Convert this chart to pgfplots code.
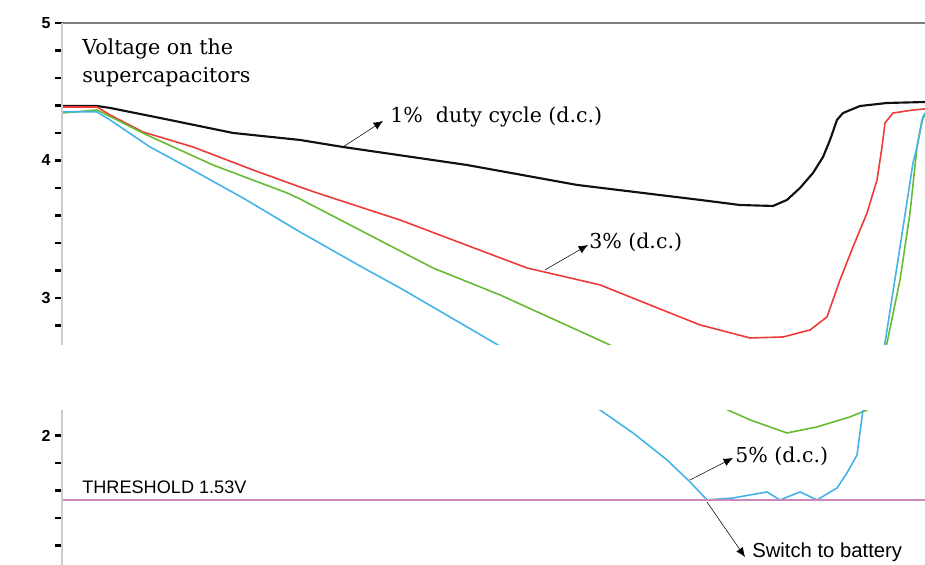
\documentclass[border=0pt]{standalone}
\usepackage{pgfplots}
\pgfplotsset{compat=1.18}
\usepackage{fontspec}
\setmainfont{DejaVu Serif}
\setsansfont{Liberation Sans}
\usetikzlibrary{arrows.meta}

\definecolor{cblack}{HTML}{111111}
\definecolor{cred}{HTML}{EE3A3A}
\definecolor{cgreen}{HTML}{66BB33}
\definecolor{cblue}{HTML}{44B4E8}
\definecolor{cthr}{HTML}{CC88BB}
\definecolor{ctop}{HTML}{7F7F7F}
\definecolor{cleft}{HTML}{CCCCCC}

\begin{document}
\begin{tikzpicture}
\begin{axis}[
    scale only axis,
    width=647.25pt, height=406.5pt,
    xmin=0, xmax=863,
    ymin=1.058, ymax=5,
    clip=false,
    axis line style={draw=none},
    xtick=\empty,
    ytick={2,3,4,5},
    minor ytick={1.2,1.4,1.6,1.8,2.8,3.2,3.4,3.6,3.8,4.2,4.4,4.6,4.8},
    tick align=outside,
    ytick pos=left,
    major tick length=5pt, minor tick length=5pt,
    every tick/.style={black, line width=1.6pt},
    yticklabel style={font=\sffamily\bfseries\fontsize{12}{14}\selectfont},
    /pgf/number format/assume math mode=true,
]
% 1% duty cycle
\addplot[cblack, line width=1.6pt] coordinates {
 (0,4.396) (35,4.396) (48,4.382) (98,4.309) (171,4.2) (238,4.149) (281,4.098)
 (405,3.967) (515,3.822) (638,3.713) (678,3.676) (711,3.669) (725,3.713)
 (738,3.8) (751,3.909) (761,4.025) (768,4.149) (775,4.295) (781,4.345)
 (798,4.396) (825,4.418) (863,4.425)};
% 3% duty cycle
\addplot[cred, line width=1.2pt] coordinates {
 (0,4.389) (35,4.389) (48,4.331) (81,4.207) (131,4.098) (191,3.931) (238,3.807)
 (255,3.764) (338,3.567) (465,3.218) (538,3.095) (588,2.949) (638,2.804)
 (688,2.709) (721,2.716) (748,2.767) (765,2.862) (778,3.131) (791,3.371)
 (805,3.618) (815,3.858) (820,4.098) (823,4.273) (831,4.345) (851,4.367) (863,4.375)};
% intermediate duty cycle
\addplot[cgreen, line width=1.2pt] coordinates {
 (0,4.345) (35,4.367) (45,4.331) (85,4.185) (151,3.967) (225,3.764) (238,3.72)
 (371,3.218) (438,3.022) (548,2.658) (618,2.367) (666,2.185) (688,2.113)
 (725,2.018) (755,2.062) (788,2.135) (805,2.185) (816,2.40) (825,2.673)
 (838,3.131) (848,3.618) (855,4.098) (860,4.295) (863,4.331)};
% 5% duty cycle
\addplot[cblue, line width=1.2pt] coordinates {
 (0,4.353) (35,4.353) (48,4.295) (88,4.098) (125,3.953) (181,3.727) (238,3.48)
 (305,3.204) (338,3.073) (436,2.658) (488,2.418) (538,2.185) (571,2.018)
 (605,1.822) (628,1.662) (645,1.531) (671,1.545) (705,1.589) (718,1.531)
 (738,1.589) (755,1.531) (775,1.618) (785,1.727) (795,1.858) (801,2.185)
 (813,2.40) (823,2.673) (838,3.371) (851,3.982) (855,4.098) (861,4.316) (863,4.345)};
% threshold
\addplot[cthr, line width=1pt] coordinates {(0,1.53) (863,1.53)};

% masked band of the original figure
\fill[white] (axis cs:-62,2.187) rectangle (axis cs:863,2.658);

% axis lines
\draw[ctop, line width=1.5pt] (axis cs:0,5) -- (axis cs:863,5);
\draw[cleft, line width=0.8pt] (axis cs:0,1.058) -- (axis cs:0,2.187);
\draw[cleft, line width=0.8pt] (axis cs:0,2.658) -- (axis cs:0,5);

% annotations
\node[anchor=north west, align=left, inner sep=0pt,
      font=\fontsize{15.5}{21}\selectfont] at (axis cs:20,4.89)
      {Voltage on the\\supercapacitors};
\draw[-{Latex[length=7pt,width=6pt]}, thin] (axis cs:281,4.098) -- (axis cs:321,4.287);
\node[anchor=base west, inner sep=0pt, font=\fontsize{15.4}{17}\selectfont]
      at (axis cs:328,4.273) {1\%\ \ duty cycle (d.c.)};
\draw[-{Latex[length=7pt,width=6pt]}, thin] (axis cs:483,3.204) -- (axis cs:526,3.385);
\node[anchor=base west, inner sep=0pt, font=\fontsize{15.4}{17}\selectfont]
      at (axis cs:527,3.36) {3\% (d.c.)};
\draw[-{Latex[length=7pt,width=6pt]}, thin] (axis cs:628,1.676) -- (axis cs:671,1.836);
\node[anchor=base west, inner sep=0pt, font=\fontsize{15.4}{17}\selectfont]
      at (axis cs:673,1.80) {5\% (d.c.)};
\draw[-{Latex[length=7pt,width=6pt]}, thin] (axis cs:645,1.516) -- (axis cs:683,1.116);
\node[anchor=base west, inner sep=0pt, font=\sffamily\fontsize{15.2}{17}\selectfont]
      at (axis cs:690,1.115) {Switch to battery};
\node[anchor=base west, inner sep=0pt, font=\sffamily\fontsize{13.6}{15}\selectfont]
      at (axis cs:20,1.575) {THRESHOLD 1.53V};

\coordinate (BL) at (axis cs:-62,1.058);
\coordinate (TR) at (axis cs:863,5.167);
\end{axis}
\pgfresetboundingbox
\useasboundingbox (BL) rectangle (TR);
\end{tikzpicture}
\end{document}
